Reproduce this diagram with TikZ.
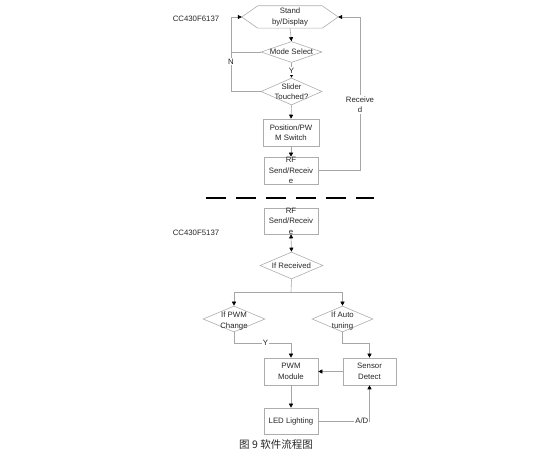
\documentclass[tikz,border=0pt]{standalone}
\usepackage{fontspec}
\setmainfont{Liberation Sans}
\newfontfamily\cjkfont{Noto Sans CJK SC}
\usetikzlibrary{shapes.geometric,arrows.meta}
\begin{document}
\begin{tikzpicture}[x=1pt,y=-1pt,
  txt/.style={font=\fontsize{7.8}{10.5}\selectfont,text=black!85,align=center,inner sep=0.5pt},
  boxn/.style={draw=black!32,line width=0.6pt,minimum width=54pt,minimum height=27pt,inner sep=0},
  dia/.style={diamond,draw=black!32,line width=0.6pt,minimum width=61pt,minimum height=22pt,inner sep=0},
  conn/.style={draw=black!35,line width=0.6pt},
  arr/.style={conn,-{Triangle[length=4pt,width=4pt,color=black]}},
  lbl/.style={txt,fill=white,inner sep=1pt}]
\useasboundingbox (0,0) rectangle (550,465);
% hexagon
\node[minimum width=96pt,minimum height=22pt,inner sep=0] (hex) at (290,17) {};
\draw[draw=black!32,line width=0.6pt] (hex.west) -- ([xshift=16pt]hex.north west) -- ([xshift=-16pt]hex.north east) -- (hex.east) -- ([xshift=-16pt]hex.south east) -- ([xshift=16pt]hex.south west) -- cycle;
\node[txt] at (hex) {Stand\\by/Display};
\node[txt] (cc1) at (196,19) {CC430F6137};
% mode select
\node[dia,minimum height=21pt] (mode) at (291.5,52) {};
\node[txt] at (mode) {Mode Select};
\node[dia,minimum height=27pt] (slider) at (291.5,91.5) {};
\node[txt] at (slider) {Slider\\Touched?};
\node[boxn,minimum width=56pt] (pos) at (291,132.5) {};
\node[txt] at (pos) {Position/PW\\M Switch};
\node[boxn] (rf1) at (291,170.5) {};
\node[txt] at (rf1) {RF\\Send/Receiv\\e};
% separator
\draw[black,line width=1.3pt,dash pattern=on 20pt off 10pt] (206,198) -- (374,198);
% lower part
\node[boxn,minimum height=26pt] (rf2) at (291,221) {};
\node[txt] at (rf2) {RF\\Send/Receiv\\e};
\node[txt] (cc2) at (196,233) {CC430F5137};
\node[dia,minimum width=63pt,minimum height=27pt] (ifrec) at (291.5,265.5) {};
\node[txt] at (ifrec) {If Received};
\node[dia,minimum width=62pt,minimum height=26pt] (pwmc) at (234,319) {};
\node[txt] at (234,321) {If PWM\\Change};
\node[dia,minimum height=26pt] (auto) at (342.5,319) {};
\node[txt] at (342.5,321) {If Auto\\tuning};
\node[boxn] (pwm) at (291,371.5) {};
\node[txt] at (pwm) {PWM\\Module};
\node[boxn,minimum width=53pt] (sensor) at (369.5,371.5) {};
\node[txt] at (sensor) {Sensor\\Detect};
\node[boxn,minimum height=26pt] (led) at (291,421) {};
\node[txt] at (led) {LED Lighting};
\node[font=\cjkfont\fontsize{10.5}{12}\selectfont,text=black!85,inner sep=0] (cap) at (276,445) {图 9 软件流程图};
% coordinates
\coordinate (lx) at (231,0);
\coordinate (rx) at (360,0);
\coordinate (br) at (291,292);
\coordinate (yl) at (0,343);
% connectors upper
\draw[arr] (hex.south) -- (mode.north);
\draw[arr] (mode.south) -- node[lbl,pos=0.55] {Y} (slider.north);
\draw[conn] (mode.west) -- (mode.west -| lx);
\draw[arr] (slider.west) -- (slider.west -| lx) -- node[lbl,pos=0.4] {N} (hex.west -| lx) -- (hex.west);
\draw[arr] (slider.south) -- (pos.north);
\draw[arr] (pos.south) -- (rf1.north);
\draw[arr] (rf1.east) -- (rf1.east -| rx) -- node[lbl,pos=0.43] {Receive\\d} (hex.east -| rx) -- (hex.east);
% connectors lower
\draw[conn,{Triangle[length=4pt,width=4pt,color=black]}-{Triangle[length=4pt,width=4pt,color=black]}] (rf2.south) -- (ifrec.north);
\draw[conn] (ifrec.south) -- (br);
\draw[arr] (br) -| (pwmc.north);
\draw[arr] (br) -| (auto.north);
\draw[arr] (pwmc.south) -- (pwmc.south |- yl) -- node[lbl,pos=0.55] {Y} (pwmc.south |- yl -| pwm.north) -- (pwm.north);
\draw[arr] (auto.south) -- (auto.south |- yl) -| (sensor.north);
\draw[arr] (sensor.west) -- (pwm.east);
\draw[arr] (pwm.south) -- (led.north);
\draw[arr] (led.east) -- node[lbl,pos=0.85] {A/D} (led.east -| sensor.south) -- (sensor.south);
\end{tikzpicture}
\end{document}
